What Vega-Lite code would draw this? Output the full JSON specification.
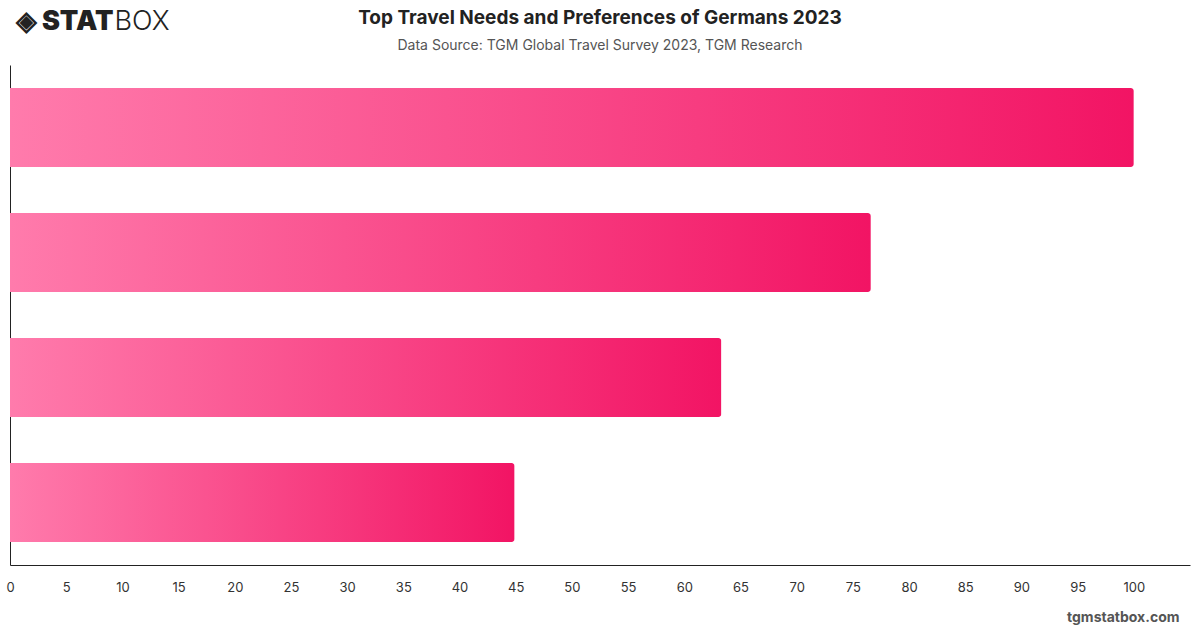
{
  "$schema": "https://vega.github.io/schema/vega-lite/v6.json",
  "autosize": {"type": "none"},
  "width": 1180,
  "height": 500,
  "padding": {"left": 10, "top": 65, "right": 10, "bottom": 63},
  "background": "white",
  "config": {
    "view": {"stroke": null},
    "font": "Inter"
  },
  "title": {
    "text": "Top Travel Needs and Preferences of Germans 2023",
    "subtitle": "Data Source: TGM Global Travel Survey 2023, TGM Research",
    "anchor": "middle",
    "font": "Inter",
    "fontSize": 19,
    "fontWeight": "bold",
    "color": "#222222",
    "subtitleFont": "Inter",
    "subtitleFontSize": 14,
    "subtitleColor": "#555555",
    "subtitlePadding": 11,
    "offset": -46
  },
  "data": {
    "values": [
      {"item": "Item 1", "value": 100},
      {"item": "Item 2", "value": 76.6},
      {"item": "Item 3", "value": 63.3},
      {"item": "Item 4", "value": 44.9}
    ]
  },
  "layer": [
    {
      "mark": {
        "type": "bar",
        "cornerRadiusEnd": 3,
        "color": {
          "gradient": "linear",
          "x1": 0, "y1": 0, "x2": 1, "y2": 0,
          "stops": [
            {"offset": 0, "color": "#FF7BAC"},
            {"offset": 1, "color": "#F21464"}
          ]
        }
      },
      "encoding": {
        "y": {
          "field": "item",
          "type": "nominal",
          "sort": null,
          "scale": {"paddingInner": 0.368, "paddingOuter": 0.184},
          "axis": {
            "orient": "left",
            "labels": false,
            "ticks": false,
            "domain": true,
            "domainColor": "#222222",
            "domainWidth": 1,
            "grid": false,
            "title": "◈ STAT",
            "titleAngle": 0,
            "titleAlign": "left",
            "titleBaseline": "middle",
            "titleX": 5,
            "titleY": -44,
            "titleFont": "Inter",
            "titleFontSize": 27,
            "titleFontWeight": 900,
            "titleColor": "#222222"
          }
        },
        "x": {
          "field": "value",
          "type": "quantitative",
          "scale": {"domain": [0, 105], "nice": false},
          "axis": {
            "orient": "bottom",
            "values": [0,5,10,15,20,25,30,35,40,45,50,55,60,65,70,75,80,85,90,95,100],
            "ticks": false,
            "grid": false,
            "domain": true,
            "domainColor": "#222222",
            "domainWidth": 1,
            "labelFont": "Inter",
            "labelFontSize": 13,
            "labelColor": "#333333",
            "labelPadding": 16,
            "labelFlush": false,
            "title": "tgmstatbox.com",
            "titleAnchor": "end",
            "titleAlign": "right",
            "titleBaseline": "middle",
            "titleX": 1169,
            "titleY": 52,
            "titleFont": "Inter",
            "titleFontSize": 14,
            "titleFontWeight": "bold",
            "titleColor": "#555555"
          }
        }
      }
    },
    {
      "mark": {"type": "bar", "opacity": 0},
      "encoding": {
        "y": {"field": "item", "type": "nominal", "sort": null},
        "x": {
          "field": "value",
          "type": "quantitative",
          "axis": {
            "orient": "top",
            "labels": false,
            "ticks": false,
            "domain": false,
            "grid": false,
            "title": "BOX",
            "titleAnchor": "start",
            "titleAlign": "left",
            "titleBaseline": "middle",
            "titleX": 104,
            "titleY": -44,
            "titleFont": "Inter",
            "titleFontSize": 27,
            "titleFontWeight": 300,
            "titleColor": "#222222"
          }
        }
      }
    }
  ],
  "resolve": {"axis": {"x": "independent"}}
}
